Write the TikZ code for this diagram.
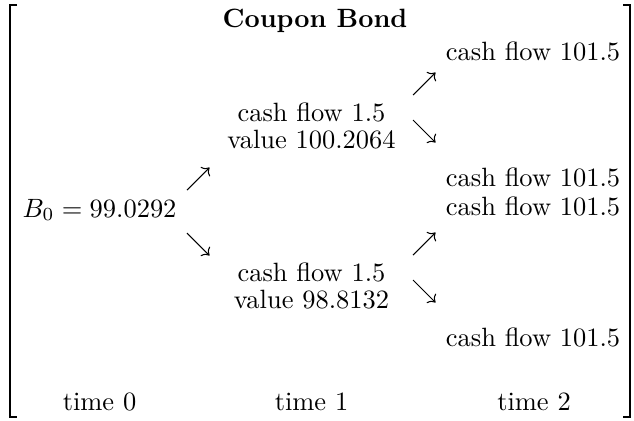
\documentclass[tikz,border=0pt]{standalone}
\usepackage{tikz}
\usetikzlibrary{graphs}
\usetikzlibrary{arrows.meta}

\begin{document}
\begin{tikzpicture} [x=0.378pt, y=-0.378pt, >={To[length=2.4pt,width=5pt]},
            every node/.style={anchor=base, inner sep=0pt, align=center, font=\fontsize{10}{10.2}\selectfont}]
            \useasboundingbox (0,0) rectangle (634,420);

            \node (title) at (315, 27)    {\textbf{Coupon Bond}};
            \node (b0) at (99.5, 217)     {$B_0 = 99.0292$};
            \node (up) at (311.5, 148)    {cash flow 1.5\\value 100.2064};
            \node (down) at (311.5, 308)  {cash flow 1.5\\value 98.8132};
            \node (uu) at (533, 60)       {cash flow 101.5};
            \node (ud) at (533, 186)      {cash flow 101.5};
            \node (du) at (533, 215)      {cash flow 101.5};
            \node (dd) at (533, 346)      {cash flow 101.5};
            \node (t0) at (99.5, 410)     {time 0};
            \node (t1) at (311.5, 410)    {time 1};
            \node (t2) at (534, 410)      {time 2};

            % arrow ends
            \coordinate (b0s1) at (187, 190);  \coordinate (b0e1) at (209.5, 167.5);
            \coordinate (b0s2) at (187, 233);  \coordinate (b0e2) at (209.5, 255.5);
            \coordinate (ups1) at (413, 95);   \coordinate (upe1) at (435.5, 72.5);
            \coordinate (ups2) at (413, 120);  \coordinate (upe2) at (435.5, 142.5);
            \coordinate (dns1) at (413, 255);  \coordinate (dne1) at (435.5, 232.5);
            \coordinate (dns2) at (413, 280);  \coordinate (dne2) at (435.5, 302.5);

            \graph[edges={line width=0.4pt}] {
                (b0s1) -> (b0e1);
                (b0s2) -> (b0e2);
                (ups1) -> (upe1);
                (ups2) -> (upe2);
                (dns1) -> (dne1);
                (dns2) -> (dne2);
            };

            % brackets
            \draw[line width=0.8pt] (17,5) -- (10,5) -- (10,417) -- (17,417);
            \draw[line width=0.8pt] (623,5) -- (630,5) -- (630,417) -- (623,417);
        \end{tikzpicture}
\end{document}
